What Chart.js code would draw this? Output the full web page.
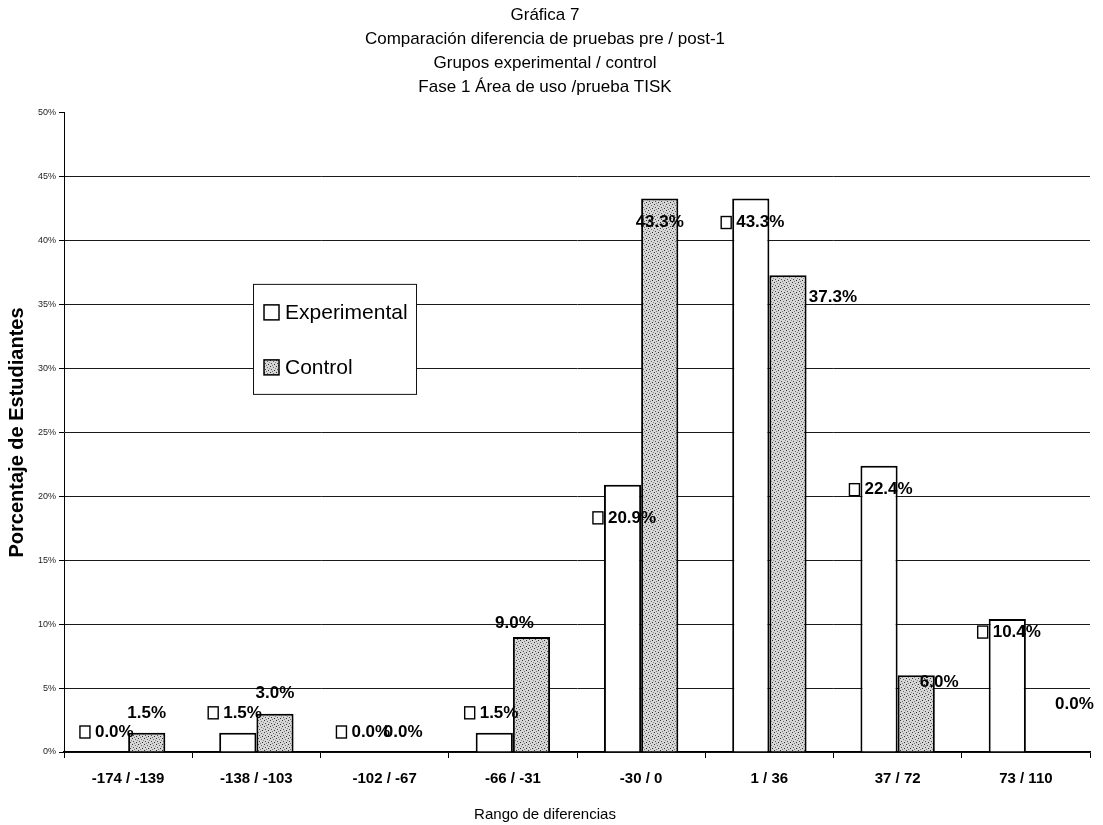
<!DOCTYPE html>
<html>
<head>
<meta charset="utf-8">
<title>Gráfica 7</title>
<script src="https://cdn.jsdelivr.net/npm/chart.js@4.4.1/dist/chart.umd.min.js"></script>
<style>
  html, body { margin: 0; padding: 0; background: #fff; }
  #wrap { width: 1103px; height: 825px; }
</style>
</head>
<body>
<div id="wrap"><canvas id="chart" width="1103" height="825"></canvas></div>
<script>
// Rangos de diferencia (pre / post-1) y porcentaje de estudiantes por grupo
const categories = ['-174 / -139', '-138 / -103', '-102 / -67', '-66 / -31', '-30 / 0', '1 / 36', '37 / 72', '73 / 110'];
const experimental = [0.0, 1.5, 0.0, 1.5, 20.9, 43.3, 22.4, 10.4];
const control = [1.5, 3.0, 0.0, 9.0, 43.3, 37.3, 6.0, 0.0];
const seriesNames = ['Experimental', 'Control'];
const titleLines = [
  'Gráfica 7',
  'Comparación diferencia de pruebas pre / post-1',
  'Grupos experimental / control',
  'Fase 1 Área de uso /prueba TISK'
];
const yAxisTitle = 'Porcentaje de Estudiantes';
const xAxisTitle = 'Rango de diferencias';
const yMax = 50;
const yStep = 5;

const FONT = '"Liberation Sans", Arial, Helvetica, sans-serif';
Chart.defaults.font.family = FONT;
Chart.defaults.color = '#000';

const canvas = document.getElementById('chart');
const mainCtx = canvas.getContext('2d');

// Stippled grey fill for the control bars
const tile = document.createElement('canvas');
tile.width = 6; tile.height = 6;
const tctx = tile.getContext('2d');
tctx.fillStyle = '#d6d6d6';
tctx.fillRect(0, 0, 6, 6);
[[0, 0, '#333'], [3, 1, '#6a6a6a'], [1, 3, '#4d4d4d'], [4, 4, '#2c2c2c'], [5, 2, '#8c8c8c'], [2, 5, '#777']]
  .forEach(([x, y, c]) => { tctx.fillStyle = c; tctx.fillRect(x, y, 1, 1); });
const stipple = mainCtx.createPattern(tile, 'repeat');

// Value labels: experimental labels carry a small key square
const valueLabels = {
  id: 'valueLabels',
  afterDatasetsDraw(chart, args, opts) {
    const ctx = chart.ctx;
    ctx.save();
    ctx.font = opts.font;
    ctx.textBaseline = 'middle';
    chart.data.datasets.forEach((ds, di) => {
      const meta = chart.getDatasetMeta(di);
      const shifts = (opts.shift && opts.shift[ds.label]) || {};
      meta.data.forEach((bar, i) => {
        const v = ds.data[i];
        const text = v.toFixed(1) + '%';
        const p = bar.getProps(['x', 'y', 'width', 'base'], true);
        const s = shifts[i] || [0, 0];
        const cy = (v < opts.aboveBelow[di] ? p.y - 20 : p.y + 24) + s[1];
        ctx.fillStyle = '#000';
        if (di === 0) {
          const left = p.x - p.width / 2 + 4 + s[0];
          ctx.textAlign = 'left';
          ctx.fillText(text, left, cy);
          ctx.fillStyle = '#fff';
          ctx.fillRect(left - 15, cy - 6, 10, 12);
          ctx.strokeStyle = '#000';
          ctx.lineWidth = 1.4;
          ctx.strokeRect(left - 15, cy - 6, 10, 12);
        } else {
          ctx.textAlign = 'center';
          ctx.fillText(text, p.x + s[0], cy);
        }
      });
    });
    ctx.restore();
  }
};

// Boxed legend sitting inside the plot area
const boxLegend = {
  id: 'boxLegend',
  afterDatasetsDraw(chart, args, o) {
    const ctx = chart.ctx;
    const a = chart.chartArea;
    const x = a.left + o.offsetX, y = a.top + o.offsetY;
    ctx.save();
    ctx.fillStyle = '#fff';
    ctx.fillRect(x, y, o.width, o.height);
    ctx.strokeStyle = '#111';
    ctx.lineWidth = 1;
    ctx.strokeRect(x + 0.5, y + 0.5, o.width, o.height);
    ctx.font = o.font;
    ctx.textBaseline = 'middle';
    ctx.textAlign = 'left';
    chart.data.datasets.forEach((ds, i) => {
      const cy = y + o.firstRow + i * o.rowGap;
      ctx.fillStyle = ds.backgroundColor;
      ctx.fillRect(x + o.swatchX, cy - 8, 15, 15);
      ctx.strokeStyle = '#000';
      ctx.lineWidth = 1.5;
      ctx.strokeRect(x + o.swatchX, cy - 8, 15, 15);
      ctx.fillStyle = '#000';
      ctx.fillText(ds.label, x + o.textX, cy);
    });
    ctx.restore();
  }
};

new Chart(mainCtx, {
  type: 'bar',
  data: {
    labels: categories,
    datasets: [
      {
        label: seriesNames[0],
        data: experimental,
        backgroundColor: '#ffffff',
        borderColor: '#000',
        borderWidth: 2,
        categoryPercentage: 0.58,
        barPercentage: 1.0
      },
      {
        label: seriesNames[1],
        data: control,
        backgroundColor: stipple,
        borderColor: '#000',
        borderWidth: 2,
        categoryPercentage: 0.58,
        barPercentage: 1.0
      }
    ]
  },
  options: {
    responsive: false,
    devicePixelRatio: 1,
    animation: false,
    layout: { padding: { left: 0, right: 13, top: 0, bottom: 0 } },
    plugins: {
      legend: { display: false },
      tooltip: { enabled: false },
      title: {
        display: true,
        text: titleLines,
        color: '#000',
        font: { size: 17, weight: 'normal', lineHeight: 1.41 },
        padding: { top: 3, bottom: 14 }
      },
      // x-axis caption, centred under the whole figure
      subtitle: {
        display: true,
        position: 'bottom',
        text: xAxisTitle,
        color: '#000',
        font: { size: 15, weight: 'normal' },
        padding: { top: 6, bottom: 1 }
      },
      valueLabels: {
        font: 'bold 17px ' + FONT,
        aboveBelow: [5, 10],
        shift: {
          Experimental: { 4: [0, 9], 7: [0, -11] },
          Control: { 3: [-17, 6], 5: [45, -2], 6: [23, 27], 7: [30, -28] }
        }
      },
      boxLegend: {
        offsetX: 189, offsetY: 171, width: 163, height: 110,
        firstRow: 29, rowGap: 55, swatchX: 11, textX: 32,
        font: '21px ' + FONT
      }
    },
    scales: {
      x: {
        grid: {
          display: true,
          drawOnChartArea: false,
          drawTicks: true,
          tickLength: 6,
          color: '#000',
          offset: true
        },
        border: { display: true, color: '#000', width: 1.5 },
        ticks: { color: '#000', font: { size: 15, weight: 'bold' }, padding: 12, maxRotation: 0, autoSkip: false },
        title: { display: false }
      },
      y: {
        min: 0,
        max: yMax,
        grid: {
          color: (c) => (c.tick && c.tick.value === yMax) ? 'rgba(0,0,0,0)' : '#1a1a1a',
          tickColor: '#000',
          tickLength: 5,
          lineWidth: 1
        },
        border: { display: true, color: '#000', width: 1 },
        ticks: {
          stepSize: yStep,
          color: '#222',
          font: { size: 9 },
          padding: 3,
          callback: (v) => v + '%'
        },
        title: {
          display: true,
          text: yAxisTitle,
          color: '#000',
          font: { size: 20, weight: 'bold' },
          padding: { top: 5, bottom: 6 }
        }
      }
    }
  },
  plugins: [boxLegend, valueLabels]
});
</script>
</body>
</html>
